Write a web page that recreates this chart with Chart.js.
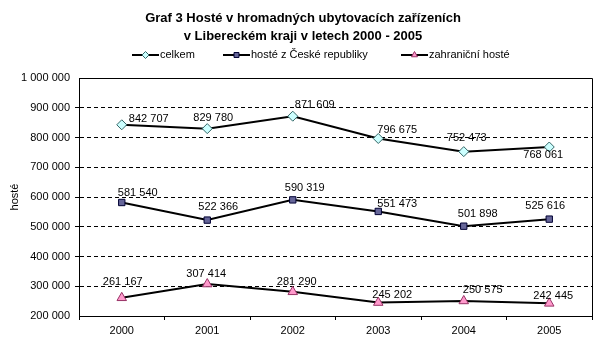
<!DOCTYPE html>
<html>
<head>
<meta charset="utf-8">
<script src="https://cdn.jsdelivr.net/npm/chart.js@4/dist/chart.umd.min.js"></script>
<style>
  html, body { margin: 0; padding: 0; background: #fff; }
  #wrap { width: 610px; height: 358px; position: relative; }
</style>
</head>
<body>
<div id="wrap"><canvas id="chart" width="610" height="358"></canvas></div>
<script>
// data
const years = ['2000', '2001', '2002', '2003', '2004', '2005'];
const celkem = [842707, 829780, 871609, 796675, 752473, 768061];
const hosteCR = [581540, 522366, 590319, 551473, 501898, 525616];
const zahranicni = [261167, 307414, 281290, 245202, 250575, 242445];
const seriesNames = ['celkem', 'hosté z České republiky', 'zahraniční hosté'];
const yTicks = [200000, 300000, 400000, 500000, 600000, 700000, 800000, 900000, 1000000];

const titleLines = ['Graf 3 Hosté v hromadných ubytovacích zařízeních', 'v Libereckém kraji v letech 2000 - 2005'];
const baseFont = '"Liberation Sans", Arial, sans-serif';

// where each value label sits relative to its point (dx, dy)
const labelOffsets = [
  [[27, -6], [6, -11], [22, -11], [19, -9], [3, -14], [-6, 8]],
  [[16, -10], [11, -13], [12, -12], [19, -7], [14, -12], [-4, -13]],
  [[1, -16], [-1, -10], [4, -10], [14, -8], [19, -11], [4, -7]]
];

function fmt(v) {
  return String(v).replace(/\B(?=(\d{3})+(?!\d))/g, ' ');
}

// title, legend, frame and value labels
const excelBits = {
  id: 'excelBits',
  beforeDatasetsDraw(chart) {
    const ctx = chart.ctx;
    const a = chart.chartArea;
    ctx.save();
    ctx.strokeStyle = '#000';
    ctx.lineWidth = 1;
    ctx.beginPath();
    ctx.moveTo(Math.round(a.left) + 0.5, Math.round(a.top) + 0.5);
    ctx.lineTo(Math.round(a.right) + 0.5, Math.round(a.top) + 0.5);
    ctx.lineTo(Math.round(a.right) + 0.5, Math.round(a.bottom) + 0.5);
    ctx.stroke();
    ctx.restore();
  },
  afterDatasetsDraw(chart) {
    const ctx = chart.ctx;
    ctx.save();
    ctx.font = '11px ' + baseFont;
    ctx.fillStyle = '#000';
    ctx.textAlign = 'center';
    ctx.textBaseline = 'middle';
    chart.data.datasets.forEach((ds, di) => {
      const meta = chart.getDatasetMeta(di);
      meta.data.forEach((pt, i) => {
        const off = labelOffsets[di][i];
        ctx.fillText(fmt(ds.data[i]), pt.x + off[0], pt.y + off[1]);
      });
    });
    ctx.restore();
  },
  afterDraw(chart) {
    const ctx = chart.ctx;
    ctx.save();
    // title
    ctx.font = 'bold 13px ' + baseFont;
    ctx.fillStyle = '#000';
    ctx.textAlign = 'center';
    ctx.textBaseline = 'middle';
    ctx.fillText(titleLines[0], 303, 18);
    ctx.fillText(titleLines[1], 303, 36);

    // legend
    const legendX = [132, 223, 401];
    const ly = 55;
    chart.data.datasets.forEach((ds, di) => {
      const x0 = legendX[di];
      ctx.strokeStyle = '#000';
      ctx.lineWidth = 2;
      ctx.beginPath();
      ctx.moveTo(x0, ly);
      ctx.lineTo(x0 + 27, ly);
      ctx.stroke();
      ctx.fillStyle = ds.pointBackgroundColor;
      ctx.strokeStyle = ds.pointBorderColor;
      ctx.lineWidth = 1;
      Chart.helpers.drawPoint(ctx, { pointStyle: ds.pointStyle, radius: 3.5, borderWidth: 1, rotation: 0 }, x0 + 13.5, ly);
      ctx.font = '11px ' + baseFont;
      ctx.fillStyle = '#000';
      ctx.textAlign = 'left';
      ctx.fillText(ds.label, x0 + 28, ly);
    });
    ctx.restore();
  }
};

const ctx = document.getElementById('chart').getContext('2d');
new Chart(ctx, {
  type: 'line',
  data: {
    labels: years,
    datasets: [
      {
        label: seriesNames[0],
        data: celkem,
        borderColor: '#000',
        borderWidth: 2,
        pointStyle: 'rectRot',
        pointRadius: 5,
        pointBackgroundColor: '#ccffff',
        pointBorderColor: '#336666',
        pointBorderWidth: 1,
        tension: 0
      },
      {
        label: seriesNames[1],
        data: hosteCR,
        borderColor: '#000',
        borderWidth: 2,
        pointStyle: 'rect',
        pointRadius: 4.5,
        pointBackgroundColor: '#666699',
        pointBorderColor: '#000033',
        pointBorderWidth: 1,
        tension: 0
      },
      {
        label: seriesNames[2],
        data: zahranicni,
        borderColor: '#000',
        borderWidth: 2,
        pointStyle: 'triangle',
        pointRadius: 5.5,
        pointBackgroundColor: '#ff99cc',
        pointBorderColor: '#993366',
        pointBorderWidth: 1,
        tension: 0
      }
    ]
  },
  options: {
    responsive: false,
    animation: false,
    layout: { padding: { top: 78, right: 18, left: 0, bottom: 0 } },
    plugins: {
      legend: { display: false },
      title: { display: false },
      tooltip: { enabled: false }
    },
    scales: {
      x: {
        type: 'category',
        offset: true,
        grid: {
          offset: true,
          drawOnChartArea: false,
          color: '#000',
          tickLength: 4
        },
        border: { color: '#000', width: 1 },
        ticks: {
          color: '#000',
          font: { size: 11, family: baseFont },
          padding: 4,
          maxRotation: 0
        },
        afterFit(scale) { scale.height = 42; }
      },
      y: {
        min: 200000,
        max: 1000000,
        afterBuildTicks(scale) {
          scale.ticks = yTicks.map(v => ({ value: v }));
        },
        grid: {
          color: '#000',
          tickLength: 4,
          tickBorderDash: [],
          lineWidth: (c) => (c.tick && (c.tick.value === 200000 || c.tick.value === 1000000)) ? 0 : 1
        },
        border: { color: '#000', width: 1, dash: [4, 3] },
        ticks: {
          color: '#000',
          font: { size: 11, family: baseFont },
          padding: 5,
          callback: (v) => fmt(v)
        },
        title: {
          display: true,
          text: 'hosté',
          color: '#000',
          font: { size: 11, family: baseFont },
          padding: { top: 8, bottom: 0 }
        },
        afterFit(scale) { scale.width = 79; }
      }
    }
  },
  plugins: [excelBits]
});
</script>
</body>
</html>
